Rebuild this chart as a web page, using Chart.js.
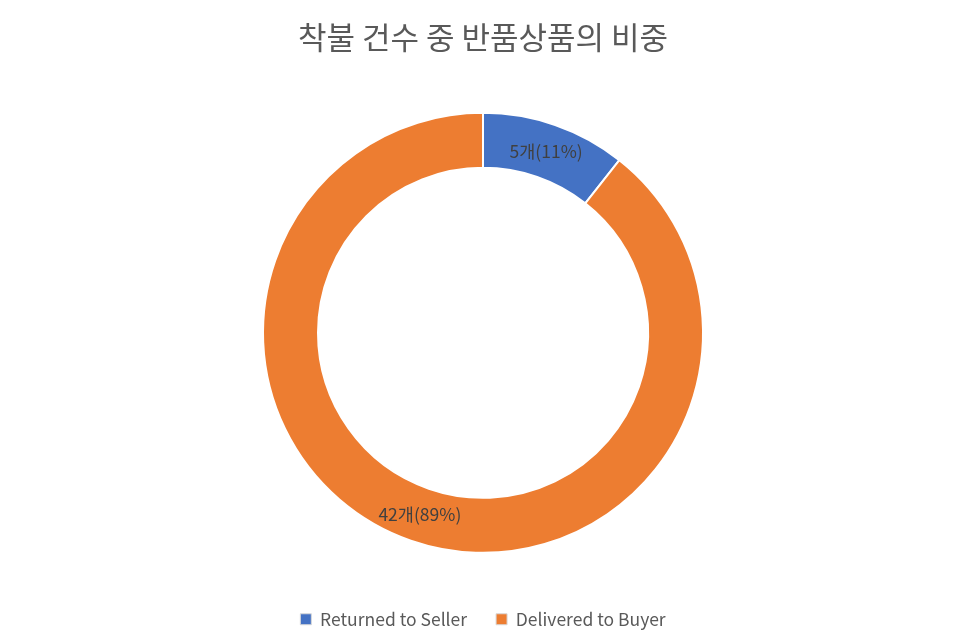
<!DOCTYPE html>
<html><head><meta charset="utf-8">
<script src="https://cdn.jsdelivr.net/npm/chart.js@4/dist/chart.umd.min.js"></script>
<style>html,body{margin:0;padding:0;background:#fff}#wrap{width:966px;height:644px}</style>
</head><body><div id="wrap"><canvas id="c" width="966" height="644"></canvas></div>
<script>
const titleText = '착불 건수 중 반품상품의 비중';
const categories = ['Returned to Seller', 'Delivered to Buyer'];
const counts = [5, 42];
const percents = [11, 89];
const colors = ['#4472C4', '#ED7D31'];
const FONT = "'Noto Sans CJK KR', 'Noto Sans', sans-serif";

const labelPlugin = {
  id: 'sliceLabels',
  afterDatasetsDraw(chart) {
    const ctx = chart.ctx;
    const meta = chart.getDatasetMeta(0);
    ctx.save();
    ctx.font = '17.5px ' + FONT;
    ctx.fillStyle = '#404040';
    ctx.textAlign = 'center';
    ctx.textBaseline = 'middle';
    meta.data.forEach((arc, i) => {
      const p = arc.getProps(['x','y','startAngle','endAngle','innerRadius','outerRadius'], true);
      const a = (p.startAngle + p.endAngle) / 2;
      const r = (p.innerRadius + p.outerRadius) / 2;
      ctx.fillText(counts[i] + '개(' + percents[i] + '%)', p.x + Math.cos(a) * r, p.y + Math.sin(a) * r);
    });
    ctx.restore();
  }
};

new Chart(document.getElementById('c'), {
  type: 'doughnut',
  data: {
    labels: categories,
    datasets: [{
      data: counts,
      backgroundColor: colors,
      borderColor: '#ffffff',
      borderWidth: 2,
      radius: 220,
      cutout: '75%'
    }]
  },
  options: {
    responsive: false,
    animation: false,
    layout: { padding: { top: 0, bottom: 6, left: 0, right: 0 } },
    plugins: {
      tooltip: { enabled: false },
      title: {
        display: true,
        text: titleText,
        color: '#595959',
        font: { family: FONT, size: 31, weight: 'normal' },
        padding: { top: 19, bottom: 28 }
      },
      legend: {
        position: 'bottom',
        labels: {
          color: '#595959',
          font: { family: FONT, size: 17.5 },
          boxWidth: 11,
          boxHeight: 11,
          padding: 29,
          generateLabels(chart) {
            return categories.map((c, i) => ({
              text: c,
              fillStyle: colors[i],
              strokeStyle: '#d9d9d9',
              lineWidth: 1,
              fontColor: '#595959',
              hidden: false,
              index: i
            }));
          }
        }
      }
    }
  },
  plugins: [labelPlugin]
});
</script>
</body></html>
